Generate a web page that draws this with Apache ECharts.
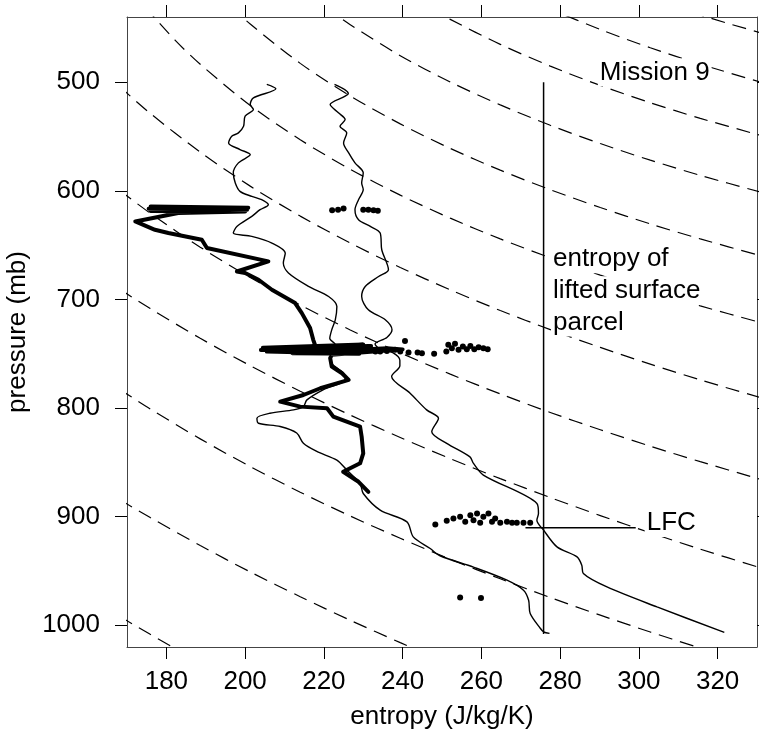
<!DOCTYPE html>
<html>
<head>
<meta charset="utf-8">
<script src="https://cdn.jsdelivr.net/npm/echarts@6/dist/echarts.min.js"></script>
<style>
  html, body { margin: 0; padding: 0; background: #fff; }
  #chart { width: 759px; height: 735px; }
</style>
</head>
<body>
<div id="chart"></div>
<script>
// ---- axis ticks ----
const entropyTicks = [180, 200, 220, 240, 260, 280, 300, 320];
const pressureTicks = [500, 600, 700, 800, 900, 1000];

// ---- profiles: [entropy (J/kg/K), pressure (mb)] ----
const profileLeft = [
  [205.5,502.1],[207.8,506.1],[202.1,514.4],[201.3,520.6],[202.1,525.2],[200,531.3],[199.6,540.6],
  [198.3,546.7],[196.6,549.8],[195.8,555.9],[198.7,562],[201.3,566.7],[198.3,574.3],[197,583.5],
  [197.5,592.8],[198.7,600.5],[201.7,605.1],[204.2,608.2],[205.9,612.8],[203.8,617.4],[201.7,623.5],
  [197.9,632.8],[197,638.9],[201.7,642],[206.8,648.1],[210.2,657.3],[209.7,666.5],[211,675.7],
  [216.1,688],[221.2,697.3],[223.3,706.5],[222.9,718.8],[222,728],[221.5,736],[223,742],[222,748],
  [221.5,756],[225,768],[225.4,774],[219.9,783],[215.7,792.5],[214.8,798.7],[212.3,801.7],
  [206.3,804.8],[203,809.4],[203.4,814],[208.9,817],[213.1,823],[214.8,832.5],[218.2,840],
  [223.3,848],[225.8,857],[229.2,869.5],[230,878.7],[234.3,894],[241.1,904.8],[242.7,918.6],
  [247,929.3],[249.5,936],[258,946.5],[266.5,958.5],[270.7,967.7],[272,977],[272.4,989.2],
  [275,1003],[275.8,1006],[277.3,1007.5]
];

const profileRight = [
  [222.7,502.1],[226.2,510.4],[225.4,512.9],[221.6,520.6],[223.7,528.2],[225.4,534.4],[224.1,540.6],
  [225.8,546.7],[225,555.9],[226.3,565.1],[227.9,574.3],[230,583.5],[229.6,592.8],[230,598.9],
  [228.8,608.2],[227.9,617.4],[228.8,626.6],[231.8,632.8],[234.3,638.9],[234.7,654.3],[236.4,672.7],
  [233.9,678.9],[230.5,688.1],[229.6,697.3],[231.3,709.6],[235.6,718.8],[237.3,728],[236,735],
  [233,741],[234,745],[237.5,749],[239.3,756],[239.3,761],[237.2,771],[241.9,786.4],[246.1,801.7],
  [249.1,809.4],[247.4,821.8],[251.2,832.5],[257.1,845],[258,851],[260.5,861.7],[274.1,887.8],
  [274.5,897],[274.1,903.2],[275.8,912.4],[279.2,927.8],[284.3,937],[285.5,944.7],[285.9,952.3],
  [291.9,964.7],[304.6,983.1],[321.7,1006.5]
];

const profileThick = [
  [176,614.5],[200.8,615.5],[175.5,616.5],[200.5,617.5],[176,618.5],[200,619],[183,620.4],
  [172.1,628.2],[177.1,635.9],[180.5,638.9],[189,645.1],[190.3,652.7],[205.9,665],[197.9,674.3],
  [200,675.7],[203.4,681.9],[206.8,691.1],[212.7,703.4],[214.4,712.6],[216.5,726.4],[217.3,737.2],
  [218,744.5],[204,746.5],[230,741.5],[204.5,744.5],[232,743],[205.5,748],[229,750],[212,749.5],
  [236,745],[240,746],[222,751],[221.6,754],[222,761.8],[224.6,768],[226.3,774.1],[219.1,781.8],
  [214.8,788],[208.9,794.1],[214,798.7],[220.8,800.2],[222.4,807.9],[224.6,811],[229.2,817.2],
  [229.6,826.4],[230,841.7],[229.2,850.9],[224.9,858.7],[228.8,867.9],[231.3,877.1]
];

// ---- point samples ----
const samples617 = [[222.1,618],[223.6,617.4],[225,616.2],[230,617.4],[231.3,617.4],[232.6,618],[233.7,618.3]];
const samples745 = [
  [231.8,746.4],[233.1,748],[234.3,748],[236,747.4],[238.1,746.4],[239.4,748],[240.6,738.2],
  [241.5,748.9],[243.8,748.9],[244.9,749.5],[248,750.1],[251.1,748],[251.6,741.8],[252.5,744.9],
  [253.3,740.9],[254.2,746.4],[255.3,743.4],[256.3,745.8],[257.2,742.8],[258.2,745.8],[259.3,744],
  [260.5,744.9],[261.6,745.8]
];
const samples905 = [
  [248.3,907.2],[251.2,903.8],[252.9,901.6],[254.6,900.2],[255.9,904.8],[257.2,898.6],[258,903.2],
  [258.9,897],[259.7,905.7],[260.5,900.2],[261.8,897],[262.7,904.8],[263.5,901.6],[264.8,905.7],
  [266.5,904.8],[267.8,905.7],[269,905.7],[270.7,905.7],[272.4,905.7]
];
const samples975 = [[254.6,974.5],[259.9,974.8]];

// ---- lifted surface parcel and level of free convection ----
const parcelEntropy = 275.8;
const parcelPressureRange = [500, 1008];
const lfcPressure = 910.3;
const lfcEntropyRange = [271.2, 299.2];

// ---- dashed background curves, top-right to bottom-left ----
const dashedCurves = [
  [[313.1,435.4],[323.2,446.5],[332.1,455.7]],
  [[276.2,430.9],[290.2,451.5],[302.9,468.3],[315.6,483.4],[332.1,501.2]],
  [[247,431.9],[252.1,442.2],[264.8,465.2],[277.5,485.2],[290.2,503],[302.9,518.9],[315.6,533.3],[332.1,550.2]],
  [[220.3,430.9],[226.7,447.1],[239.4,475.6],[252.1,499.8],[264.8,520.9],[277.5,539.7],[290.2,556.5],
   [302.9,571.8],[315.6,585.8],[332.1,602.4]],
  [[196.2,429.7],[201.3,446.5],[214,482.7],[226.7,512.7],[239.4,538.4],[252.1,561],[264.8,581],
   [277.5,599],[290.2,615.4],[302.9,630.5],[315.6,644.3],[332.1,660.9]],
  [[174.6,430.8],[182.2,461.3],[188.6,483.5],[201.3,521.4],[214,553],[226.7,580.2],[239.4,604],
   [252.1,625.2],[264.8,644.3],[277.5,661.7],[290.2,677.7],[302.9,692.3],[315.6,706],[332.1,722.5]],
  [[168.2,504.3],[175.9,528.7],[188.6,564.4],[201.3,595.7],[214,623.3],[226.7,648.1],[239.4,670.6],
   [252.1,691.2],[264.8,710.2],[277.5,727.8],[290.2,744.2],[302.9,759.6],[315.6,774.1],[332.1,791.7]],
  [[168.2,599.9],[175.9,620.6],[188.6,651.9],[201.3,679.8],[214,705.1],[226.7,728.1],[239.4,749.2],
   [252.1,768.8],[264.8,787],[277.5,804.1],[290.2,820],[302.9,835.1],[315.6,849.4],[332.1,866.9]],
  [[168.2,690.8],[175.9,708.4],[188.6,735.8],[201.3,761],[214,784.5],[226.7,806.5],[239.4,827.1],
   [252.1,846.6],[264.8,865],[277.5,882.4],[290.2,899],[302.9,914.8],[315.6,929.9],[332.1,948.5]],
  [[168.2,782.9],[175.9,800.8],[188.6,828.4],[201.3,853.9],[214,877.5],[226.7,899.4],[239.4,919.9],
   [252.1,939.2],[264.8,957.2],[277.5,974.5],[290.2,990.7],[302.9,1006.2],[315.6,1021]],
  [[168.2,884.5],[175.9,900.8],[188.6,926.6],[201.3,950.9],[214,973.7],[226.7,995.4],[239.4,1016],[244.5,1023.9]],
  [[168.2,992],[175.9,1008.3],[183.5,1024]]
];

// ---- text annotations: [entropy, pressure, text] ----
const notes = [
  [289.7, 491.5, 'Mission 9'],
  [277.8, 663.5, 'entropy of'],
  [277.8, 692.1, 'lifted surface'],
  [277.8, 721.6, 'parcel'],
  [301.6, 906.2, 'LFC']
];

const FONT = '"Liberation Sans", Arial, Helvetica, sans-serif';
const FS = 26;
const frameColor = '#444';

function xAxisDef(pos, withLabels) {
  return {
    type: 'value', min: 170, max: 330, position: pos,
    axisLine: { show: true, onZero: false, lineStyle: { color: frameColor, width: 1 } },
    axisTick: { show: true, inside: false, length: 12, customValues: entropyTicks,
                lineStyle: { color: '#000', width: 1 } },
    axisLabel: withLabels
      ? { show: true, customValues: entropyTicks, formatter: function (v) { return String(v); },
          fontSize: FS, color: '#000', fontFamily: FONT, margin: 22 }
      : { show: false },
    splitLine: { show: false },
    name: withLabels ? 'entropy (J/kg/K)' : '',
    nameLocation: 'middle', nameGap: 57,
    nameTextStyle: { fontSize: FS, color: '#000', fontFamily: FONT }
  };
}
function yAxisDef(pos, withLabels) {
  return {
    type: 'value', min: 440, max: 1020, inverse: true, position: pos,
    axisLine: { show: true, onZero: false, lineStyle: { color: frameColor, width: 1 } },
    axisTick: { show: true, inside: false, length: 12, customValues: pressureTicks,
                lineStyle: { color: '#000', width: 1 } },
    axisLabel: withLabels
      ? { show: true, customValues: pressureTicks, formatter: function (v) { return String(v); },
          fontSize: FS, color: '#000', fontFamily: FONT, margin: 27 }
      : { show: false },
    splitLine: { show: false },
    name: withLabels ? 'pressure (mb)' : '',
    nameLocation: 'middle', nameGap: 90, nameRotate: 90,
    nameTextStyle: { fontSize: FS, color: '#000', fontFamily: FONT }
  };
}

const series = [];
dashedCurves.forEach(function (c) {
  series.push({
    type: 'line', data: c, showSymbol: false, smooth: 0.3,
    lineStyle: { color: '#000', width: 1.2, type: [14, 8] }, z: 1, silent: true
  });
});
series.push({
  type: 'line', data: profileLeft, showSymbol: false, smooth: 0.3,
  lineStyle: { color: '#000', width: 1.4 }, z: 3, silent: true
});
series.push({
  type: 'line', data: profileRight, showSymbol: false, smooth: 0.3,
  lineStyle: { color: '#000', width: 1.4 }, z: 3, silent: true
});
series.push({
  type: 'line', data: profileThick, showSymbol: false,
  lineStyle: { color: '#000', width: 4, join: 'round', cap: 'round' }, z: 3, silent: true
});
series.push({
  type: 'scatter', data: [].concat(samples617, samples745, samples905, samples975),
  symbol: 'circle', symbolSize: 6, itemStyle: { color: '#000', opacity: 1 }, z: 4, silent: true
});
series.push({
  type: 'line', showSymbol: false,
  data: [[parcelEntropy, parcelPressureRange[0]], [parcelEntropy, parcelPressureRange[1]]],
  lineStyle: { color: '#000', width: 1.5 }, z: 4, silent: true
});
series.push({
  type: 'line', showSymbol: false,
  data: [[lfcEntropyRange[0], lfcPressure], [lfcEntropyRange[1], lfcPressure]],
  lineStyle: { color: '#000', width: 1.5 }, z: 4, silent: true
});
series.push({
  type: 'scatter', symbolSize: 1, itemStyle: { color: 'rgba(0,0,0,0)', opacity: 1 }, z: 6, silent: true,
  data: notes.map(function (n) {
    return {
      value: [n[0], n[1]],
      label: {
        show: true, formatter: n[2], position: [0, 0], align: 'left', verticalAlign: 'middle',
        fontSize: FS, fontFamily: FONT, color: '#000', opacity: 1, lineHeight: 28,
        textBorderWidth: 0, backgroundColor: '#fff', padding: [0, 2]
      }
    };
  })
});

const chart = echarts.init(document.getElementById('chart'), null, { renderer: 'canvas' });
chart.setOption({
  animation: false,
  backgroundColor: '#fff',
  grid: { left: 127, top: 17, width: 630, height: 630, containLabel: false, outerBoundsMode: 'none' },
  xAxis: [xAxisDef('bottom', true), xAxisDef('top', false)],
  yAxis: [yAxisDef('left', true), yAxisDef('right', false)],
  series: series
});
</script>
</body>
</html>
